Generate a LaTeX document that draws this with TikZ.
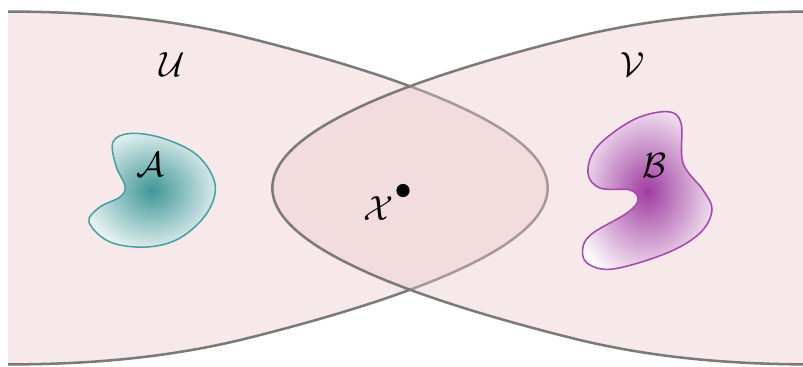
\documentclass[tikz,border=0pt]{standalone}
\usepackage{amsmath}
\definecolor{tealc}{RGB}{64,150,150}
\definecolor{purpc}{RGB}{160,60,160}
\pgfdeclareradialshading{shadeA}{\pgfpoint{0bp}{0bp}}{color(0bp)=(tealc); color(31bp)=(white); color(50bp)=(white)}
\pgfdeclareradialshading{shadeB}{\pgfpoint{0bp}{0bp}}{color(0bp)=(purpc); color(31bp)=(white); color(50bp)=(white)}
\begin{document}
\begin{tikzpicture}[x=0.025cm,y=-0.025cm,
  regionfill/.style={fill={rgb,255:red,236;green,200;blue,202},fill opacity=0.4},
  regionline/.style={draw={rgb,255:red,122;green,122;blue,122},line width=1.8pt,line join=round},
  blobA/.style={draw={rgb,255:red,72;green,160;blue,160},line width=1.1pt,shading=shadeA},
  blobB/.style={draw={rgb,255:red,168;green,72;blue,168},line width=1.1pt,shading=shadeB},
  lbl/.style={inner sep=0pt,font=\fontsize{27}{30}\selectfont}]
\useasboundingbox (0,0) rectangle (803,367);
\begin{scope}
\clip (8,0) rectangle (803,367);
% region U
\path[regionfill] (-20,11.5) -- (8,11.6) .. controls (88,11.6) and (168.4,18) .. (248.4,38) .. controls (447.9,88) and (547.7,138) .. (547.7,188) .. controls (547.7,238) and (447.9,288) .. (248.4,338) .. controls (168.4,358) and (88,364.4) .. (8,364.4) -- (-20,364.5) -- cycle;
\draw[regionline] (-20,11.5) -- (8,11.6) .. controls (88,11.6) and (168.4,18) .. (248.4,38) .. controls (447.9,88) and (547.7,138) .. (547.7,188) .. controls (547.7,238) and (447.9,288) .. (248.4,338) .. controls (168.4,358) and (88,364.4) .. (8,364.4) -- (-20,364.5);
% region V
\path[regionfill] (840,11.5) -- (812,11.6) .. controls (732,11.6) and (651.6,18) .. (571.6,38) .. controls (372.1,88) and (272.3,138) .. (272.3,188) .. controls (272.3,238) and (372.1,288) .. (571.6,338) .. controls (651.6,358) and (732,364.4) .. (812,364.4) -- (840,364.5) -- cycle;
\draw[regionline] (840,11.5) -- (812,11.6) .. controls (732,11.6) and (651.6,18) .. (571.6,38) .. controls (372.1,88) and (272.3,138) .. (272.3,188) .. controls (272.3,238) and (372.1,288) .. (571.6,338) .. controls (651.6,358) and (732,364.4) .. (812,364.4) -- (840,364.5);
\end{scope}
% blobs
\path[blobA] plot[smooth cycle,tension=0.6] coordinates {(113,142) (130,133.5) (162,138) (197,155) (215,184) (207,213) (180,238) (147,247) (110,242) (89,222) (100,207) (120,197) (125,186) (116,166)};
\path[blobB] plot[smooth cycle,tension=0.6] coordinates {(667,111.7) (681,123) (683,163) (703,190) (712,210) (700,233) (667,253) (613,269) (587,263) (583,247) (593,233) (627,213) (638,200) (630,190) (600,188) (588,173) (597,147) (633,120)};
% labels
\node[lbl] (U) at (172,65) {$\mathcal{U}$};
\node[lbl] (V) at (633,65) {$\mathcal{V}$};
\node[lbl] (A) at (150,165) {$\mathcal{A}$};
\node[lbl] (B) at (655,166) {$\mathcal{B}$};
\node[lbl] (X) at (379,209) {$\mathcal{X}$};
\node[circle,fill=black,inner sep=0pt,minimum size=0.33cm] (pt) at (403,190.5) {};
\end{tikzpicture}
\end{document}
